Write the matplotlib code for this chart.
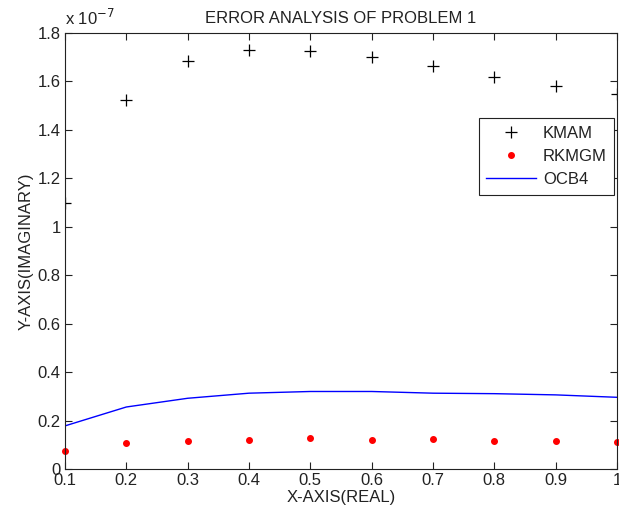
import matplotlib.pyplot as plt
import numpy as np

plt.rcParams['font.family'] = ['Liberation Sans', 'DejaVu Sans']

# values in units of 1e-7
x = [0.1, 0.2, 0.3, 0.4, 0.5, 0.6, 0.7, 0.8, 0.9, 1.0]
kmam = [1.10, 1.525, 1.686, 1.731, 1.727, 1.70, 1.665, 1.62, 1.583, 1.55]
rkmgm = [0.074, 0.106, 0.117, 0.121, 0.128, 0.121, 0.123, 0.116, 0.116, 0.112]
ocb4 = [0.178, 0.256, 0.292, 0.313, 0.320, 0.320, 0.313, 0.311, 0.306, 0.296]

xticks = [0.1, 0.2, 0.3, 0.4, 0.5, 0.6, 0.7, 0.8, 0.9, 1.0]
xticklabels = ['0.1', '0.2', '0.3', '0.4', '0.5', '0.6', '0.7', '0.8', '0.9', '1']
yticks = [0, 0.2, 0.4, 0.6, 0.8, 1.0, 1.2, 1.4, 1.6, 1.8]
yticklabels = ['0', '0.2', '0.4', '0.6', '0.8', '1', '1.2', '1.4', '1.6', '1.8']

fig = plt.figure(figsize=(6.19, 5.16), dpi=100)
ax = fig.add_axes([65/619, 1 - 469/516, (617-65)/619, (469-33)/516])

ax.plot(x, kmam, '+', color='black', markersize=9, markeredgewidth=0.9, label='KMAM')
ax.plot(x, rkmgm, '.', color='red', markersize=8, label='RKMGM', clip_on=False)
ax.plot(x, ocb4, '-', color='blue', linewidth=1, label='OCB4')

ax.set_xlim(0.1, 1.0)
ax.set_ylim(0, 1.8)
ax.set_xticks(xticks)
ax.set_xticklabels(xticklabels)
ax.set_yticks(yticks)
ax.set_yticklabels(yticklabels)
ax.tick_params(direction='in', top=True, right=True, length=5, width=0.8,
               labelsize=12, colors='#222222', pad=3)
for s in ax.spines.values():
    s.set_linewidth(0.8)
    s.set_color('#222222')

ax.set_title('ERROR ANALYSIS OF PROBLEM 1', fontsize=12, color='#222222', pad=7)
ax.set_xlabel('X-AXIS(REAL)', fontsize=12, color='#222222', labelpad=1)
ax.set_ylabel('Y-AXIS(IMAGINARY)', fontsize=12, color='#222222', labelpad=3)
fig.text(65/619, 1 - 18/516, 'x 10$^{-7}$', fontsize=12, color='#222222', ha='left', va='center')

leg = ax.legend(loc='upper right', bbox_to_anchor=(0.995, 0.805), fontsize=12,
                fancybox=False, framealpha=1, edgecolor='#222222', borderpad=0.45,
                handlelength=3.0, handletextpad=0.4, labelspacing=0.5, borderaxespad=0)
leg.get_frame().set_linewidth(0.8)
for t in leg.get_texts():
    t.set_color('#222222')

fig.savefig('out.png', dpi=100)
